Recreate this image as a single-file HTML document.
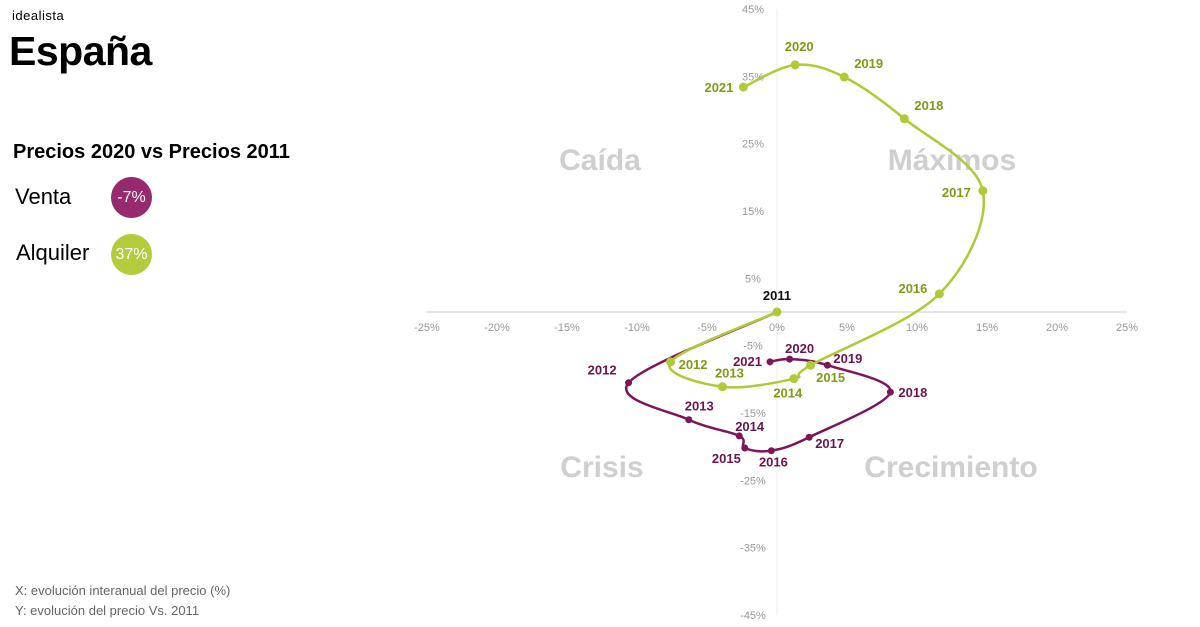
<!DOCTYPE html>
<html><head><meta charset="utf-8"><style>
body{margin:0;width:1200px;height:627px;background:#fff;font-family:"Liberation Sans",sans-serif;overflow:hidden;position:relative}
.a{position:absolute}
</style></head><body>
<div class="a" style="left:12px;top:8px;font-size:13px;letter-spacing:0.5px">idealista</div>
<div class="a" style="left:9px;top:28px;font-size:41px;font-weight:bold;letter-spacing:-0.5px">España</div>
<div class="a" style="left:13px;top:141px;font-size:20px;font-weight:bold">Precios 2020 vs Precios 2011</div>
<div class="a" style="left:15px;top:184px;font-size:22px">Venta</div>
<div class="a" style="left:111px;top:177px;width:41px;height:41px;border-radius:50%;background:#962a6d;color:#fff;font-size:16px;line-height:41px;text-align:center">-7%</div>
<div class="a" style="left:16px;top:240px;font-size:22px">Alquiler</div>
<div class="a" style="left:111px;top:234px;width:41px;height:41px;border-radius:50%;background:#b4cc3c;color:#fff;font-size:16px;line-height:41px;text-align:center">37%</div>
<div class="a" style="left:15px;top:583px;font-size:13px;color:#666">X: evolución interanual del precio (%)</div>
<div class="a" style="left:15px;top:603px;font-size:13px;color:#666">Y: evolución del precio Vs. 2011</div>
<svg class="a" style="left:0;top:0" width="1200" height="627" id="chart"></svg>
<script>
const years=['2011','2012','2013','2014','2015','2016','2017','2018','2019','2020','2021'];
const alqX=[0,-7.6,-3.9,1.2,2.4,11.6,14.7,9.1,4.8,1.3,-2.4];
const alqY=[0,-7.4,-11.1,-9.9,-7.9,2.7,18.0,28.7,34.9,36.7,33.4];
const venX=[0,-10.6,-6.3,-2.7,-2.3,-0.4,2.3,8.1,3.6,0.9,-0.5];
const venY=[0,-10.5,-16.0,-18.4,-20.2,-20.6,-18.6,-11.9,-7.9,-7.0,-7.4];
const xTicks=[-25,-20,-15,-10,-5,0,5,10,15,20,25];
const yTicks=[45,35,25,15,5,-5,-15,-25,-35,-45];
const alqOff=[[0,-12,'middle'],[8,7,'start'],[7,-9,'middle'],[-6,19,'middle'],[20,17,'middle'],[-12,-1,'end'],[-12,6,'end'],[10,-9,'start'],[10,-9,'start'],[4,-14,'middle'],[-10,5,'end']];
const venOff=[[0,0,'none'],[-12,-8,'end'],[-4,-9,'start'],[-4,-5,'start'],[-4,15,'end'],[2,16,'middle'],[6,11,'start'],[8,5,'start'],[6,-2,'start'],[10,-6,'middle'],[-8,4,'end']];
const NS='http://www.w3.org/2000/svg';
const svg=document.getElementById('chart');
const sx=v=>777+v*14, sy=v=>312-v*6.733;
function el(t,a){const e=document.createElementNS(NS,t);for(const k in a)e.setAttribute(k,a[k]);svg.appendChild(e);return e;}
[['Caída',600,170],['Máximos',952,170],['Crisis',602,477],['Crecimiento',951,477]].forEach(q=>{
 const t=el('text',{x:q[1],y:q[2],'text-anchor':'middle','font-size':30,'font-weight':'bold',fill:'#cfcfcf'});t.textContent=q[0];
 
 
});
const ax=el('line',{x1:sx(-25),x2:sx(25),y1:312,y2:312,stroke:'#ddd','stroke-width':1.5});


const ay=el('line',{x1:777,x2:777,y1:sy(45),y2:sy(-45),stroke:'#eee','stroke-width':1});


xTicks.forEach(v=>{const t=el('text',{x:sx(v),y:331,'text-anchor':'middle','font-size':11,fill:'#999'});t.textContent=v+'%';
 
 });
yTicks.forEach(v=>{const t=el('text',{x:753,y:sy(v)+4,'text-anchor':'middle','font-size':11,fill:'#999'});t.textContent=v+'%';
 
 });
function path(X,Y){const p=X.map((x,i)=>[sx(x),sy(Y[i])]);let d='M'+p[0];for(let i=0;i<p.length-1;i++){const p0=p[i-1]||p[i],p1=p[i],p2=p[i+1],p3=p[i+2]||p2;
 const c1=[p1[0]+(p2[0]-p0[0])/6,p1[1]+(p2[1]-p0[1])/6],c2=[p2[0]-(p3[0]-p1[0])/6,p2[1]-(p3[1]-p1[1])/6];d+='C'+c1+' '+c2+' '+p2;}return d;}
function series(X,Y,col,lab,off,name,skip0){
 const l=el('path',{d:path(X,Y),fill:'none',stroke:col,'stroke-width':2.5});
 
 
 X.forEach((x,i)=>{if(skip0&&i==0)return;
  const c=el('circle',{cx:sx(x),cy:sy(Y[i]),r:name=='alquiler'?4.5:3.5,fill:col});
  
  
  const o=off[i];if(o[2]=='none')return;
  const t=el('text',{x:sx(x)+o[0],y:sy(Y[i])+o[1],'text-anchor':o[2],'font-size':13,'font-weight':'bold',fill:(i==0?'#111':lab)});t.textContent=years[i];
  
  
 });
}
series(venX,venY,'#7d1657','#6e1450',venOff,'venta',true);
series(alqX,alqY,'#b0c935','#7f9a15',alqOff,'alquiler',false);
</script>
</body></html>
